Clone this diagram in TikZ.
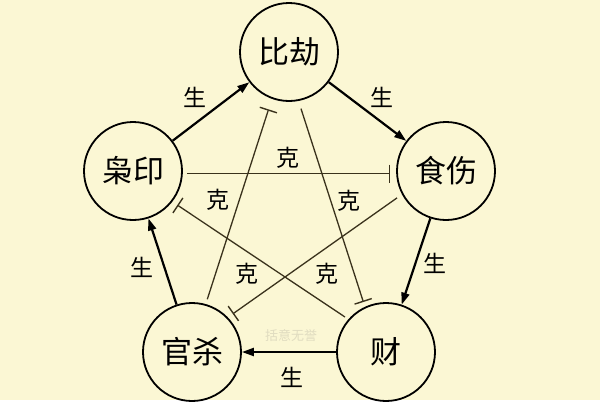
\documentclass[tikz,border=0pt]{standalone}
\usepackage{fontspec}
\newfontfamily\cjk{Noto Sans CJK SC}
\usetikzlibrary{arrows.meta}
\definecolor{paper}{RGB}{251,247,212}
\definecolor{keline}{RGB}{58,50,28}
\definecolor{mark}{RGB}{224,220,192}

\begin{document}
\begin{tikzpicture}[x=1pt,y=-1pt,
		elem/.style={circle,draw,line width=1.8pt,minimum size=98pt,inner sep=0pt,font=\cjk\fontsize{31}{31}\selectfont},
		sheng/.style={line width=2.2pt,-{Triangle[length=12pt,width=8pt]}},
		ke/.style={draw=keline,line width=1.3pt,-{Bar[width=18pt,line width=1.4pt]}},
		lbl/.style={font=\cjk\fontsize{23}{23}\selectfont}]
	\fill[paper] (0,0) rectangle (600,400);
	% five elements
	\node[elem] (bj) at (289,52)  {比劫};
	\node[elem] (ss) at (446,171) {食伤};
	\node[elem] (cai) at (386,352) {财};
	\node[elem] (gs) at (192,352) {官杀};
	\node[elem] (xy) at (133,171) {枭印};
	% sheng
	\draw[sheng] (xy) -- (bj);
	\draw[sheng] (bj) -- (ss);
	\draw[sheng] (ss) -- (cai);
	\draw[sheng] (cai) -- (gs);
	\draw[sheng] (gs) -- (xy);
	\node[lbl] (s1) at (195,97)  {生};
	\node[lbl] (s2) at (382,97)  {生};
	\node[lbl] (s3) at (435,263) {生};
	\node[lbl] (s4) at (292,377) {生};
	\node[lbl] (s5) at (142,267) {生};
	% ke
	\draw[ke,shorten <=4pt,shorten >=6pt] (xy.-3) -- (ss.183);
	\draw[ke,shorten <=5pt,shorten >=11pt] (gs.74) -- (bj.250);
	\draw[ke,shorten <=8pt,shorten >=5pt] (bj.281) -- (cai.115);
	\draw[ke,shorten <=6pt,shorten >=6pt] (ss.208) -- (gs.44);
	\draw[ke,shorten <=4pt,shorten >=6pt] (cai.139) -- (xy.322);
	\node[lbl] (k1) at (288,158) {克};
	\node[lbl] (k2) at (218,200) {克};
	\node[lbl] (k3) at (349,201) {克};
	\node[lbl] (k4) at (247,274) {克};
	\node[lbl] (k5) at (327,274) {克};
	\node[font=\cjk\fontsize{13}{13}\selectfont,text=mark] (wm) at (291,335) {括意无誉};
\end{tikzpicture}
\end{document}
